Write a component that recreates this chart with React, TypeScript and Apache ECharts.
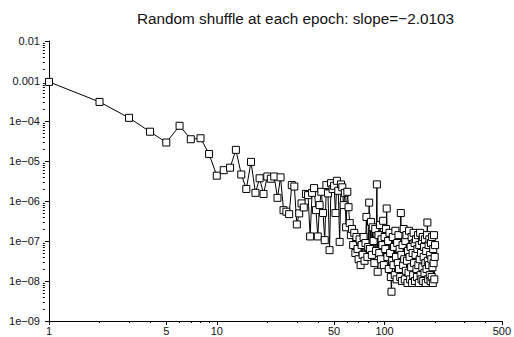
import React, { useEffect, useRef } from "react";
import * as echarts from "echarts";

const TITLE = "Random shuffle at each epoch: slope=\u22122.0103";

// loss per epoch, epochs 1..200
const losses: number[] = [
  9.5e-4, 3.0e-4, 1.2e-4, 5.4e-5, 2.9e-5, 7.6e-5, 3.5e-5, 3.7e-5, 1.5e-5, 4.3e-6,
  5.9e-6, 6.8e-6, 1.9e-5, 4.6e-6, 2.0e-6, 9.5e-6, 1.6e-6, 3.7e-6, 1.5e-6, 4.1e-6,
  3.6e-6, 4.1e-6, 1.2e-6, 3.9e-6, 5.9e-7, 5.4e-7, 4.7e-7, 2.5e-6, 2.3e-6, 2.6e-7,
  4.9e-7, 8.7e-7, 6.9e-7, 1.5e-6, 1.4e-6, 1.3e-7, 1.6e-6, 2.1e-6, 5.9e-7, 1.3e-7,
  7.9e-7, 1.7e-6, 5.0e-7, 1.05e-7, 2.5e-6, 1.55e-6, 5.9e-8, 2.8e-6, 2.0e-6, 2.4e-6,
  5.0e-7, 3.2e-6, 1.8e-6, 9.5e-8, 2.6e-6, 2.2e-6, 7.9e-7, 1.6e-6, 2.2e-7, 1.7e-6,
  7.0e-7, 2.8e-7, 1.4e-7, 2.0e-7, 7.9e-8, 1.6e-7, 5.0e-8, 1.26e-7, 6.3e-8, 3.5e-8,
  1.1e-7, 2.5e-8, 7.9e-8, 4.5e-8, 1.26e-7, 3.2e-8, 8.9e-8, 4.0e-7, 4.0e-8, 7.1e-8,
  9.1e-7, 6.3e-8, 3.0e-7, 4.5e-8, 2.2e-7, 1.0e-7, 2.8e-8, 2.0e-7, 5.6e-8, 2.6e-6,
  1.7e-8, 1.4e-7, 5.0e-8, 2.5e-7, 3.5e-8, 1.1e-7, 7.9e-8, 3.2e-7, 2.5e-8, 1.26e-7,
  6.3e-8, 2.0e-7, 6.5e-7, 4.0e-8, 1.0e-7, 2.0e-8, 1.6e-7, 5.0e-8, 1.26e-8, 5.4e-9,
  3.2e-8, 1.26e-7, 2.5e-8, 7.1e-8, 1.4e-8, 1.8e-7, 4.0e-8, 1.1e-8, 8.9e-8, 2.8e-8,
  1.4e-7, 2.0e-8, 6.3e-8, 1.26e-8, 5.0e-7, 4.5e-8, 1.0e-8, 7.9e-8, 2.5e-8, 2.0e-7,
  3.5e-8, 1.1e-8, 1.0e-7, 1.8e-8, 1.4e-7, 3.2e-8, 8.9e-9, 5.6e-8, 1.6e-8, 1.8e-7,
  4.0e-8, 1.1e-8, 7.1e-8, 2.2e-8, 1.26e-7, 8.9e-9, 5.0e-8, 1.4e-8, 1.6e-7, 2.8e-8,
  8.9e-8, 1.0e-8, 4.5e-8, 1.1e-7, 2.0e-8, 1.26e-8, 6.3e-8, 1.4e-7, 2.5e-8, 8.9e-9,
  7.9e-8, 3.5e-8, 1.6e-7, 1.4e-8, 5.0e-8, 1.1e-8, 1.0e-7, 2.2e-8, 1.26e-7, 1.0e-8,
  4.0e-8, 7.1e-8, 1.6e-8, 1.1e-7, 2.8e-8, 8.9e-9, 5.6e-8, 2.0e-8, 1.4e-7, 2.9e-7,
  3.2e-8, 1.1e-8, 7.9e-8, 2.5e-8, 1.1e-7, 1.4e-8, 4.5e-8, 1.0e-8, 8.9e-8, 3.5e-8,
  1.26e-8, 1.26e-7, 2.2e-8, 8.9e-9, 6.3e-8, 2.8e-8, 1.4e-7, 1.1e-8, 4.0e-8, 7.9e-8,
];

const xTickValues = [1, 5, 10, 50, 100, 500];
const xTickLabels = ["1", "5", "10", "50", "100", "500"];
const xMinorTicks = [2, 3, 4, 6, 7, 8, 9, 20, 30, 40, 60, 70, 80, 90, 200, 300, 400];

const yTickValues = [1e-9, 1e-8, 1e-7, 1e-6, 1e-5, 1e-4, 1e-3, 1e-2];
const yTickLabels = ["1e\u221209", "1e\u221208", "1e\u221207", "1e\u221206", "1e\u221205", "1e\u221204", "0.001", "0.01"];
const yMinorMantissas = [2, 3, 4, 5, 6, 7, 8, 9];
const yMinorDecades = [1e-9, 1e-8, 1e-7, 1e-6, 1e-5, 1e-4, 1e-3];

export default function App() {
  const ref = useRef<HTMLDivElement>(null);
  useEffect(() => {
    document.body.style.margin = "0";
    if (!ref.current) return;
    const chart = echarts.init(ref.current, null, { renderer: "svg" });
    const yMinor: number[] = [];
    yMinorDecades.forEach((d) => yMinorMantissas.forEach((m) => yMinor.push(m * d)));
    const font = "'Liberation Sans', Arial, sans-serif";
    const black = { color: "#000", width: 1 };
    const data = losses.map((v, i) => [i + 1, v]);
    chart.setOption({
      animation: false,
      title: {
        text: TITLE,
        left: 132,
        top: 6,
        textStyle: { fontSize: 15.3, fontWeight: "normal", color: "#111", fontFamily: font },
      },
      grid: { left: 49, right: 8, top: 41, bottom: 16, containLabel: false },
      xAxis: [
        {
          type: "log",
          logBase: 10,
          min: 1,
          max: 500,
          axisLine: { show: true, onZero: false, lineStyle: black },
          axisTick: { show: true, length: 4, customValues: xTickValues, lineStyle: black },
          axisLabel: {
            customValues: xTickValues,
            formatter: (v: number) => {
              const i = xTickValues.findIndex((t) => Math.abs(t - v) / t < 1e-6);
              return i >= 0 ? xTickLabels[i] : "";
            },
            fontSize: 11,
            color: "#111",
            fontFamily: font,
            margin: 4,
          },
          splitLine: { show: false },
        },
        {
          type: "log",
          logBase: 10,
          min: 1,
          max: 500,
          position: "top",
          offset: -280,
          axisLine: { show: false },
          axisTick: { show: true, inside: true, length: 2, customValues: xMinorTicks, lineStyle: black },
          axisLabel: { show: false },
          splitLine: { show: false },
        },
      ],
      yAxis: [
        {
          type: "log",
          logBase: 10,
          min: 1e-9,
          max: 1e-2,
          axisLine: { show: true, onZero: false, lineStyle: black },
          axisTick: { show: true, length: 4, customValues: yTickValues, lineStyle: black },
          axisLabel: {
            customValues: yTickValues,
            formatter: (v: number) => {
              const i = yTickValues.findIndex((t) => Math.abs(t - v) / t < 1e-6);
              return i >= 0 ? yTickLabels[i] : "";
            },
            fontSize: 11,
            color: "#111",
            fontFamily: font,
            margin: 9,
          },
          splitLine: { show: false },
        },
        {
          type: "log",
          logBase: 10,
          min: 1e-9,
          max: 1e-2,
          position: "right",
          offset: -457,
          axisLine: { show: false },
          axisTick: { show: true, inside: true, length: 2, customValues: yMinor, lineStyle: black },
          axisLabel: { show: false },
          splitLine: { show: false },
        },
      ],
      series: [
        {
          type: "line",
          data,
          xAxisIndex: 0,
          yAxisIndex: 0,
          symbol: "rect",
          symbolSize: 7,
          showAllSymbol: true,
          lineStyle: { color: "#000", width: 1 },
          itemStyle: { color: "#fff", borderColor: "#000", borderWidth: 1 },
          emphasis: { disabled: true },
        },
      ],
    });
    return () => chart.dispose();
  }, []);
  return <div ref={ref} style={{ width: 514, height: 337 }} />;
}
